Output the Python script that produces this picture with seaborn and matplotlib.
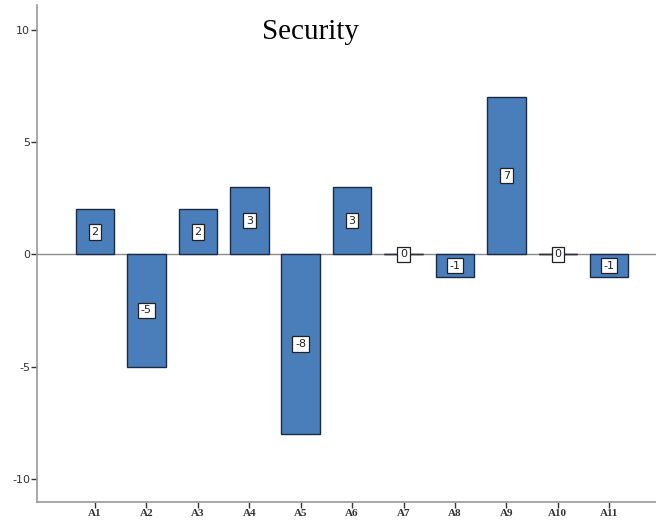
import matplotlib
matplotlib.use("Agg")
import matplotlib.pyplot as plt
import seaborn as sns
import pandas as pd

categories = ["A1", "A2", "A3", "A4", "A5", "A6", "A7", "A8", "A9", "A10", "A11"]
values = [2, -5, 2, 3, -8, 3, 0, -1, 7, 0, -1]
y_ticks = [-10, -5, 0, 5, 10]

df = pd.DataFrame({"item": categories, "score": values})

sns.set_style("white")
plt.rcParams["axes.unicode_minus"] = False
fig = plt.figure(figsize=(6.56, 5.31), dpi=100)
ax = fig.add_axes([37 / 656, 29 / 531, 619 / 656, 497 / 531])

bar_color = "#4a7ebb"
edge_color = "#1c2b44"
sns.barplot(data=df, x="item", y="score", color=bar_color, width=0.75,
            edgecolor=edge_color, linewidth=1.0, saturation=1, ax=ax, zorder=2)

ax.axhline(0, color="#8c8c8c", linewidth=1.0, zorder=1)

# zero-height bars show up as a short dark stroke on the baseline
for i, v in enumerate(values):
    if v == 0:
        ax.plot([i - 0.375, i + 0.375], [0, 0], color="#333333", linewidth=1.0, zorder=3)

for i, v in enumerate(values):
    ax.text(i, v / 2, str(v), ha="center", va="center", fontsize=8,
            family="DejaVu Sans", color="#222222", zorder=4,
            bbox=dict(boxstyle="square,pad=0.25", facecolor="white",
                      edgecolor="#222222", linewidth=0.9))

ax.set_xlim(-1.128, 10.91)
ax.set_ylim(-11.03, 11.1)
ax.set_yticks(y_ticks)
ax.set_xlabel("")
ax.set_ylabel("")

for side in ["top", "right"]:
    ax.spines[side].set_visible(False)
for side in ["left", "bottom"]:
    ax.spines[side].set_color("#9a9a9a")
    ax.spines[side].set_linewidth(1.2)

ax.tick_params(axis="both", which="both", direction="out", length=4, width=1,
               color="#333333", labelsize=8, labelcolor="#333333", pad=1,
               left=True, bottom=True)
for lbl in ax.get_yticklabels():
    lbl.set_family("DejaVu Sans")
for lbl in ax.get_xticklabels():
    lbl.set_family("Liberation Serif")
    lbl.set_fontweight("bold")

ax.text(0.473, 0.94, "Security", transform=fig.transFigure, ha="center", va="center",
        fontsize=21, family="Liberation Serif", color="black")

fig.savefig("out.png", dpi=100)
